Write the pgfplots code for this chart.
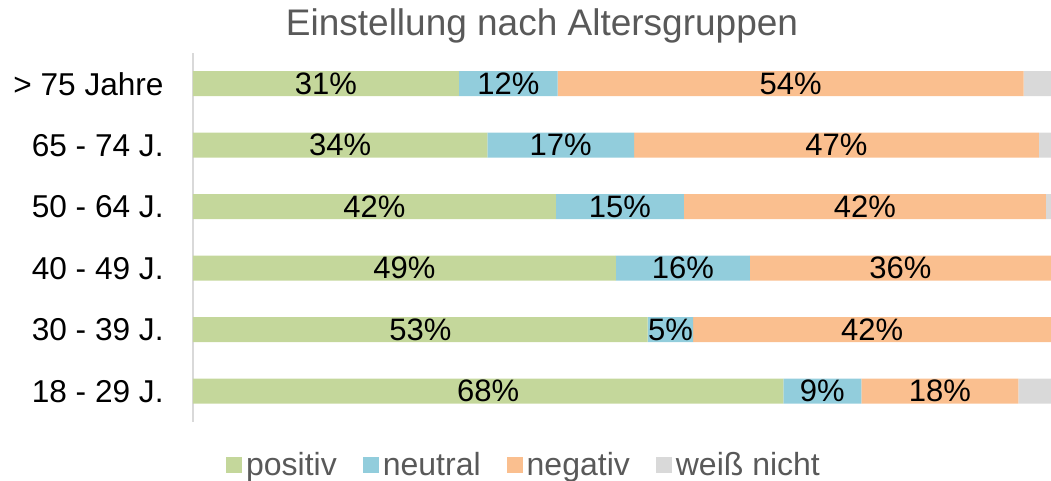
\documentclass[border=0pt]{standalone}
\usepackage{pgfplots}
\usepackage{pgfplotstable}
\pgfplotsset{compat=1.18}
\usepackage{fontspec}
\setmainfont{Liberation Sans}

\definecolor{cpos}{HTML}{C4D79B}
\definecolor{cneu}{HTML}{92CDDC}
\definecolor{cneg}{HTML}{FABF8F}
\definecolor{cwn}{HTML}{D9D9D9}
\definecolor{ctxt}{HTML}{595959}

% cat: 0 = 18-29 ... 5 = >75
\pgfplotstableread{
cat pos  posl neu  neul neg  negl wn
0   68.8 68   9.1  9    18.3 18   3.8
1   53.0 53   5.3  5    41.7 42   0
2   49.3 49   15.6 16   35.1 36   0
3   42.3 42   14.9 15   42.2 42   0.6
4   34.3 34   17.1 17   47.2 47   1.4
5   31.0 31   11.5 12   54.3 54   3.2
}\data

\begin{document}
\begin{tikzpicture}
\useasboundingbox (-96.5pt,-29.5pt) rectangle (429pt,211pt);
\begin{axis}[
    scale only axis,
    width=429pt, height=184.5pt,
    xbar stacked,
    bar width=12.5pt,
    xmin=0, xmax=100,
    ymin=-0.5, ymax=5.5,
    clip=false,
    axis x line=none,
    axis y line*=left,
    y axis line style={draw=cwn, line width=0.9pt, -},
    ytick={0,...,5},
    yticklabels={18 - 29 J., 30 - 39 J., 40 - 49 J., 50 - 64 J., 65 - 74 J., > 75 Jahre},
    major tick length=0pt,
    yticklabel style={font=\fontsize{15.8}{18}\selectfont, text=black, inner sep=0pt, xshift=-14.5pt},
    title={Einstellung nach Altersgruppen},
    title style={at={(axis description cs:0.4068,1)}, anchor=base, yshift=2.5pt,
                 font=\fontsize{18.5}{22}\selectfont, text=ctxt},
    nodes near coords style={anchor=center, font=\fontsize{15.5}{18}\selectfont, text=black},
    legend style={at={(axis description cs:0.387,-0.1165)}, anchor=center,
                  draw=none, fill=none, legend columns=4,
                  font=\fontsize{16}{19}\selectfont, text=ctxt,
                  /tikz/every even column/.append style={column sep=11pt}},
    legend image code/.code={\fill[#1] (0pt,-4pt) rectangle (8pt,4pt);},
]
\addplot[fill=cpos, draw=none, point meta=explicit symbolic,
    nodes near coords={\pgfplotspointmeta\%}]
    table[x=pos, y=cat, meta=posl] {\data};
\addplot[fill=cneu, draw=none, point meta=explicit symbolic,
    nodes near coords={\pgfplotspointmeta\%}]
    table[x=neu, y=cat, meta=neul] {\data};
\addplot[fill=cneg, draw=none, point meta=explicit symbolic,
    nodes near coords={\pgfplotspointmeta\%}]
    table[x=neg, y=cat, meta=negl] {\data};
\addplot[fill=cwn, draw=none] table[x=wn, y=cat] {\data};
\legend{positiv, neutral, negativ, weiß nicht}
\end{axis}
\end{tikzpicture}
\end{document}
